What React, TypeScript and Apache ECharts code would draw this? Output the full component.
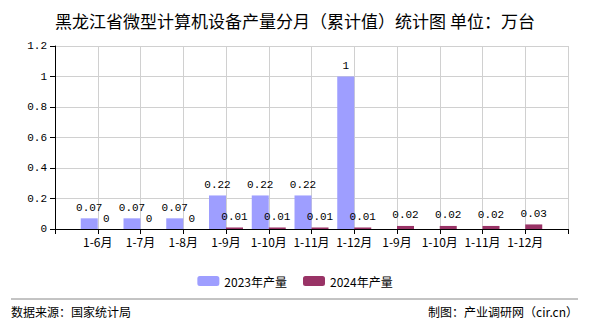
import React, { useEffect, useRef } from "react";
import * as echarts from "echarts";

const categories = ["", "1-6月", "1-7月", "1-8月", "1-9月", "1-10月", "1-11月", "1-12月", "1-9月", "1-10月", "1-11月", "1-12月", ""];
const series2023: (number | null)[] = [null, 0.07, 0.07, 0.07, 0.22, 0.22, 0.22, 1, null, null, null, null, null];
const series2024: (number | null)[] = [null, 0, 0, 0, 0.01, 0.01, 0.01, 0.01, 0.02, 0.02, 0.02, 0.03, null];
const seriesNames = ["2023年产量", "2024年产量"];
const titleText = "黑龙江省微型计算机设备产量分月（累计值）统计图 单位：万台";
const sourceText = "数据来源：国家统计局";
const makerText = "制图：产业调研网（cir.cn）";

export default function App() {
  const ref = useRef<HTMLDivElement>(null);
  useEffect(() => {
    if (!ref.current) return;
    const chart = echarts.init(ref.current, null, { renderer: "svg" });
    const labelStyle = {
      show: true,
      position: "top" as const,
      distance: 5,
      color: "#000",
      fontSize: 11,
      fontFamily: "Liberation Mono, monospace",
    };
    chart.setOption({
      animation: false,
      backgroundColor: "#fff",
      title: {
        text: titleText,
        left: "center",
        top: 7,
        textStyle: { fontSize: 17, fontWeight: "normal", color: "#000", fontFamily: "Noto Sans CJK SC" },
      },
      legend: {
        data: seriesNames,
        top: 270,
        left: "center",
        itemWidth: 22,
        itemHeight: 10,
        itemGap: 16,
        textStyle: { fontSize: 12, color: "#000", fontFamily: "Noto Sans CJK SC" },
      },
      grid: { left: 55, right: 22, top: 46, bottom: 101, containLabel: false },
      xAxis: {
        type: "category",
        data: categories,
        boundaryGap: false,
        axisLine: { lineStyle: { color: "#000" } },
        axisTick: { show: true, length: 5, lineStyle: { color: "#000" } },
        axisLabel: { color: "#000", fontSize: 12, interval: 0, margin: 6, fontFamily: "Noto Sans CJK SC" },
        splitLine: { show: true, lineStyle: { color: "#d0d0d0" } },
      },
      yAxis: {
        type: "value",
        min: 0,
        max: 1.2,
        interval: 0.2,
        axisLine: { show: true, lineStyle: { color: "#000" } },
        axisTick: { show: true, length: 5, lineStyle: { color: "#000" } },
        axisLabel: { color: "#000", fontSize: 11, margin: 8, fontFamily: "Liberation Mono, monospace" },
        splitLine: { show: true, lineStyle: { color: "#d0d0d0" } },
      },
      series: [
        {
          name: seriesNames[0],
          type: "bar",
          data: series2023,
          barWidth: 17,
          barGap: "0%",
          itemStyle: { color: "#9e9eff" },
          label: labelStyle,
        },
        {
          name: seriesNames[1],
          type: "bar",
          data: series2024,
          barWidth: 17,
          barGap: "0%",
          itemStyle: { color: "#993366" },
          label: labelStyle,
        },
      ],
      graphic: [
        { type: "line", shape: { x1: 11, y1: 299, x2: 578, y2: 299 }, style: { stroke: "#888", lineWidth: 1 } },
        {
          type: "text",
          left: 11,
          top: 305,
          style: { text: sourceText, fontSize: 12, fill: "#000", fontFamily: "Noto Sans CJK SC" },
        },
        {
          type: "text",
          right: 12,
          top: 305,
          style: { text: makerText, fontSize: 12, fill: "#000", fontFamily: "Noto Sans CJK SC" },
        },
      ],
    });
    return () => chart.dispose();
  }, []);
  return <div ref={ref} style={{ width: 590, height: 330, margin: -8 }} />;
}
